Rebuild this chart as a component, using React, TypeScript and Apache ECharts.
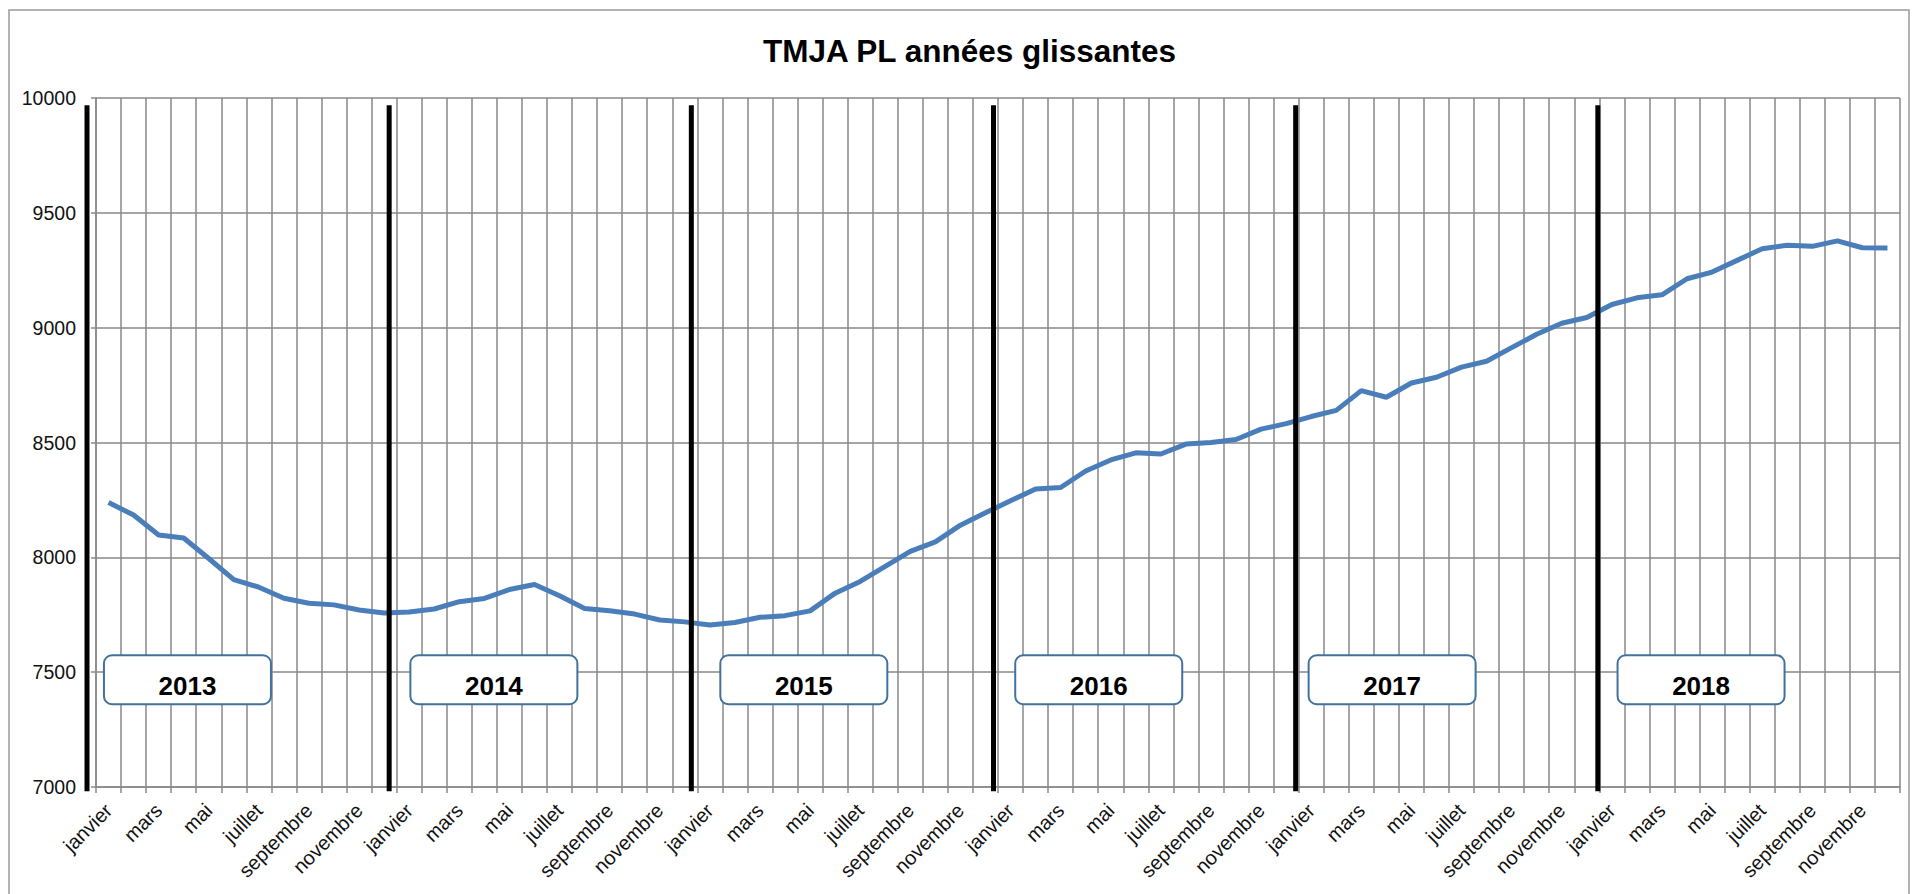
import React, { useEffect, useRef } from "react";
import * as echarts from "echarts";

// ---------- data ----------
const TITLE = "TMJA PL années glissantes";
const YEARS = ["2013", "2014", "2015", "2016", "2017", "2018"];
const MONTHS = [
  "janvier", "février", "mars", "avril", "mai", "juin",
  "juillet", "août", "septembre", "octobre", "novembre", "décembre",
];
const Y_MIN = 7000;
const Y_MAX = 10000;
const Y_STEP = 500;

const values2013 = [8239, 8184, 8097, 8084, 7995, 7903, 7870, 7822, 7800, 7793, 7771, 7758];
const values2014 = [7762, 7775, 7807, 7821, 7860, 7882, 7833, 7777, 7767, 7753, 7727, 7719];
const values2015 = [7705, 7716, 7739, 7746, 7767, 7844, 7895, 7961, 8026, 8067, 8140, 8194];
const values2016 = [8246, 8298, 8304, 8376, 8424, 8455, 8450, 8493, 8500, 8513, 8558, 8582];
const values2017 = [8613, 8640, 8726, 8697, 8759, 8784, 8828, 8854, 8913, 8971, 9019, 9044];
const values2018 = [9101, 9130, 9143, 9213, 9242, 9293, 9344, 9359, 9354, 9378, 9348, 9347];

const seriesValues = [
  ...values2013, ...values2014, ...values2015,
  ...values2016, ...values2017, ...values2018,
];
const categories = YEARS.flatMap((y) => MONTHS.map((m) => `${m} ${y}`));

// ---------- layout / style ----------
const FONT = "'Liberation Sans', Arial, sans-serif";
const GRID_COLOR = "#888888";
const LINE_COLOR = "#4A7EBB";
const BOX_BORDER = "#41719C";
const YEAR_LINE_TOP = 9968;
const YEAR_LINE_BOTTOM = 6982;
const BOX_VALUE = 7467;
// horizontal placement of each year box, in months after the start of its year
const BOX_OFFSET_MONTHS = [3.65, 3.88, 4.25, 4.02, 3.73, 4.06];
const BOX_W = 167;
const BOX_H = 49;

export default function App() {
  const ref = useRef<HTMLDivElement>(null);

  useEffect(() => {
    if (!ref.current) return;
    const chart = echarts.init(ref.current, undefined, { renderer: "svg" });

    const axisLineStyle = { color: GRID_COLOR, width: 1.5 };
    const option: any = {
      animation: false,
      backgroundColor: "#ffffff",
      grid: {
        left: 96, top: 98, width: 1804, height: 689,
        containLabel: false, outerBoundsMode: "none",
      },
      xAxis: {
        type: "category",
        data: categories,
        boundaryGap: true,
        axisLine: { show: true, lineStyle: axisLineStyle },
        axisTick: { show: true, interval: 0, length: 6, lineStyle: axisLineStyle },
        axisLabel: {
          interval: 1,
          rotate: 45,
          margin: 20,
          fontSize: 20,
          fontFamily: FONT,
          color: "#111",
          formatter: (v: string) => v.split(" ")[0],
        },
        splitLine: { show: true, interval: 0, lineStyle: axisLineStyle },
      },
      yAxis: {
        type: "value",
        min: Y_MIN,
        max: Y_MAX,
        interval: Y_STEP,
        axisLine: { show: true, lineStyle: axisLineStyle },
        axisTick: { show: true, length: 5, lineStyle: axisLineStyle },
        axisLabel: {
          margin: 20, fontSize: 19.5, fontFamily: FONT, color: "#111",
          formatter: (v: number) => String(v),
        },
        splitLine: { show: true, lineStyle: axisLineStyle },
      },
      series: [
        {
          type: "line",
          data: seriesValues,
          symbol: "none",
          showSymbol: false,
          lineStyle: { color: LINE_COLOR, width: 5 },
          z: 3,
        },
      ],
    };
    chart.setOption(option);

    const px = (i: number, v: number) =>
      chart.convertToPixel({ xAxisIndex: 0, yAxisIndex: 0 }, [i, v]) as number[];
    const band = px(1, Y_MIN)[0] - px(0, Y_MIN)[0];

    const graphics: any[] = [
      {
        type: "rect",
        shape: { x: 9, y: 10, width: 1900, height: 1000 },
        style: { fill: "none", stroke: "#9a9a9a", lineWidth: 1.5 },
        z: 1,
        silent: true,
      },
      {
        type: "text",
        x: 969.5,
        y: 50.8,
        style: {
          text: TITLE,
          font: `bold 31.5px ${FONT}`,
          fill: "#000",
          textAlign: "center",
          textVerticalAlign: "middle",
        },
        z: 20,
      },
    ];

    YEARS.forEach((yr, k) => {
      const centre = px(k * 12, Y_MIN)[0];
      const boundary = centre - band / 2;
      const lx = boundary - 9 + 1.5 * k;
      const top = px(k * 12, YEAR_LINE_TOP)[1];
      const bot = px(k * 12, YEAR_LINE_BOTTOM)[1];
      graphics.push({
        type: "line",
        shape: { x1: lx, y1: top, x2: lx, y2: bot },
        style: { stroke: "#000", lineWidth: 5 },
        z: 10,
      });
      const bx = boundary + BOX_OFFSET_MONTHS[k] * band;
      const by = px(k * 12, BOX_VALUE)[1];
      graphics.push({
        type: "rect",
        shape: { x: bx - BOX_W / 2, y: by - BOX_H / 2, width: BOX_W, height: BOX_H, r: 8 },
        style: { fill: "#fff", stroke: BOX_BORDER, lineWidth: 2 },
        z: 11,
      });
      graphics.push({
        type: "text",
        x: bx,
        y: by + 6,
        style: {
          text: yr,
          font: `bold 26px ${FONT}`,
          fill: "#000",
          textAlign: "center",
          textVerticalAlign: "middle",
        },
        z: 12,
      });
    });

    chart.setOption({ graphic: { elements: graphics } });

    return () => chart.dispose();
  }, []);

  return (
    <div
      ref={ref}
      style={{ position: "fixed", left: 0, top: 0, width: 1912, height: 894, background: "#fff" }}
    />
  );
}
